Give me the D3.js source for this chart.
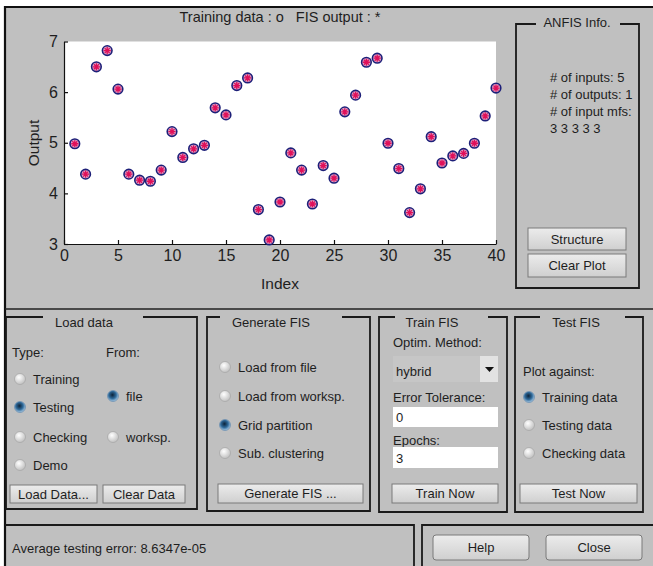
<!DOCTYPE html>
<html>
<head>
<meta charset="utf-8">
<script src="https://cdn.jsdelivr.net/npm/d3@7"></script>
<style>
  body { margin: 0; background: #fff; }
  svg text { font-family: "Liberation Sans", Arial, sans-serif; fill: #1e1e1e; white-space: pre; }
</style>
</head>
<body>
<script>
// values (index 1..40)
const trainingData = [4.98, 4.38, 6.50, 6.82, 6.06, 4.38, 4.26, 4.24, 4.46, 5.22,
                      4.71, 4.88, 4.95, 5.69, 5.55, 6.13, 6.28, 3.68, 3.08, 3.83,
                      4.80, 4.46, 3.79, 4.55, 4.30, 5.61, 5.94, 6.59, 6.67, 4.99,
                      4.49, 3.62, 4.09, 5.12, 4.60, 4.74, 4.79, 4.99, 5.53, 6.08];
const fisOutput    = [4.98, 4.38, 6.50, 6.82, 6.06, 4.38, 4.26, 4.24, 4.46, 5.22,
                      4.71, 4.88, 4.95, 5.69, 5.55, 6.13, 6.28, 3.68, 3.08, 3.83,
                      4.80, 4.46, 3.79, 4.55, 4.30, 5.61, 5.94, 6.59, 6.67, 4.99,
                      4.49, 3.62, 4.09, 5.12, 4.60, 4.74, 4.79, 4.99, 5.53, 6.08];
const xTicks = [0, 5, 10, 15, 20, 25, 30, 35, 40];
const yTicks = [3, 4, 5, 6, 7];

const infoLines = ["# of inputs: 5", "# of outputs: 1", "# of input mfs:", "3 3 3 3 3"];
const typeOptions = ["Training", "Testing", "Checking", "Demo"];
const fromOptions = ["file", "worksp."];
const genOptions = ["Load from file", "Load from worksp.", "Grid partition", "Sub. clustering"];
const testOptions = ["Training data", "Testing data", "Checking data"];

const W = 653, H = 566;
const FS = 13;
const svg = d3.select("body").append("svg")
  .attr("width", W).attr("height", H);

const defs = svg.append("defs");
const rg = defs.append("radialGradient").attr("id", "radioOff").attr("cx", "40%").attr("cy", "35%").attr("r", "70%");
rg.append("stop").attr("offset", "0%").attr("stop-color", "#ffffff");
rg.append("stop").attr("offset", "100%").attr("stop-color", "#bcbcbc");
const rgOn = defs.append("radialGradient").attr("id", "radioOn").attr("cx", "45%").attr("cy", "40%").attr("r", "60%");
rgOn.append("stop").attr("offset", "0%").attr("stop-color", "#0c2238");
rgOn.append("stop").attr("offset", "55%").attr("stop-color", "#2f6a9a");
rgOn.append("stop").attr("offset", "100%").attr("stop-color", "#a9cbe6");
const bg = defs.append("linearGradient").attr("id", "btn").attr("x1", 0).attr("y1", 0).attr("x2", 0).attr("y2", 1);
bg.append("stop").attr("offset", "0%").attr("stop-color", "#ececec");
bg.append("stop").attr("offset", "100%").attr("stop-color", "#cfcfcf");

// window background + border
svg.append("rect").attr("x", 5).attr("y", 7).attr("width", W - 5).attr("height", H - 7)
  .attr("fill", "#c0c0c0");
svg.append("path").attr("d", `M5,${H} V7 H${W}`).attr("fill", "none")
  .attr("stroke", "#111").attr("stroke-width", 2.2);

// ---------- plot ----------
const x = d3.scaleLinear().domain([0, 40]).range([64, 496]);
const y = d3.scaleLinear().domain([3, 7]).range([244, 41.5]);

svg.append("rect").attr("x", x(0)).attr("y", y(7))
  .attr("width", x(40) - x(0)).attr("height", y(3) - y(7)).attr("fill", "#fff");

const xAxis = svg.append("g").attr("transform", `translate(0,${y(3)})`)
  .call(d3.axisBottom(x).tickValues(xTicks).tickFormat(d3.format("d"))
    .tickSizeInner(-4).tickSizeOuter(0).tickPadding(6));
const yAxis = svg.append("g").attr("transform", `translate(${x(0)},0)`)
  .call(d3.axisLeft(y).tickValues(yTicks).tickFormat(d3.format("d"))
    .tickSizeInner(-4).tickSizeOuter(0).tickPadding(6));
[xAxis, yAxis].forEach(g => {
  g.selectAll("path, line").attr("stroke", "#111").attr("stroke-width", 1.2);
  g.selectAll("text").attr("font-size", 16).style("font-family", "'Liberation Sans', Arial, sans-serif").attr("fill", "#222");
});

svg.append("text").attr("x", 280).attr("y", 22).attr("text-anchor", "middle")
  .attr("font-size", 14.5).text("Training data : o   FIS output : *");
svg.append("text").attr("x", 280).attr("y", 289).attr("text-anchor", "middle")
  .attr("font-size", 15.5).text("Index");
svg.append("text").attr("transform", "translate(39,143) rotate(-90)").attr("text-anchor", "middle")
  .attr("font-size", 15.5).text("Output");

// training data: blue circles
svg.append("g").selectAll("circle").data(trainingData).join("circle")
  .attr("cx", (d, i) => x(i + 1)).attr("cy", d => y(d)).attr("r", 4.8)
  .attr("fill", "#d7a3c8").attr("stroke", "#1d1f78").attr("stroke-width", 1.6);
// FIS output: red asterisks
const star = s => `M${-s},0H${s}M0,${-s}V${s}M${-s * 0.7},${-s * 0.7}L${s * 0.7},${s * 0.7}M${-s * 0.7},${s * 0.7}L${s * 0.7},${-s * 0.7}`;
svg.append("g").selectAll("path").data(fisOutput).join("path")
  .attr("transform", (d, i) => `translate(${x(i + 1)},${y(d)})`)
  .attr("d", star(3.6)).attr("stroke", "#e0105a").attr("stroke-width", 1.3).attr("fill", "none");

// ---------- helpers ----------
function frame(x0, y0, x1, y1, title, tx, ty, gapL, gapR) {
  const g = svg.append("g");
  g.append("path")
    .attr("d", `M${gapL},${y0} H${x0} V${y1} H${x1} V${y0} H${gapR}`)
    .attr("fill", "none").attr("stroke", "#1a1a1a").attr("stroke-width", 1.8);
  if (title) g.append("text").attr("x", tx).attr("y", ty).attr("text-anchor", "middle")
    .attr("font-size", FS).text(title);
}
function label(tx, ty, s, size, color) {
  svg.append("text").attr("x", tx).attr("y", ty).attr("dy", "0.35em")
    .attr("font-size", size || FS).attr("fill", color || "#1e1e1e").text(s);
}
function radio(cx, cy, on, s) {
  svg.append("circle").attr("cx", cx).attr("cy", cy).attr("r", 5.5)
    .attr("fill", on ? "url(#radioOn)" : "url(#radioOff)")
    .attr("stroke", on ? "#6f8fae" : "#a8a8a8").attr("stroke-width", 0.8);
  label(cx + 13, cy, s);
}
function button(x0, y0, x1, y1, s, round) {
  svg.append("rect").attr("x", x0).attr("y", y0).attr("width", x1 - x0).attr("height", y1 - y0)
    .attr("rx", round ? 3 : 0).attr("fill", "url(#btn)").attr("stroke", "#7a7a7a").attr("stroke-width", 1);
  svg.append("text").attr("x", (x0 + x1) / 2).attr("y", (y0 + y1) / 2).attr("dy", "0.36em")
    .attr("text-anchor", "middle").attr("font-size", FS).text(s);
}

// ---------- ANFIS info ----------
frame(516, 24, 639, 288, "ANFIS Info.", 577, 27, 536, 620);
infoLines.forEach((s, i) => label(550, 77 + i * 17, s, FS, "#333"));
button(528, 228, 626, 250, "Structure");
button(528, 254, 626, 277, "Clear Plot");

// separator between plot area and controls
svg.append("line").attr("x1", 5).attr("x2", W).attr("y1", 309).attr("y2", 309)
  .attr("stroke", "#222").attr("stroke-width", 1.6);

// ---------- Load data ----------
frame(6, 317, 197, 509, "Load data", 84, 327, 43, 143);
label(12, 352, "Type:");
label(106, 352, "From:");
typeOptions.forEach((s, i) => radio(20, [379, 407, 437, 465][i], s === "Testing", s));
fromOptions.forEach((s, i) => radio(113, [396, 437][i], s === "file", s));
button(10, 485, 97, 503, "Load Data...");
button(103, 485, 185, 503, "Clear Data");

// ---------- Generate FIS ----------
frame(207, 317, 370, 511, "Generate FIS", 271, 327, 220, 342);
genOptions.forEach((s, i) => radio(225, [367, 396, 425, 453][i], s === "Grid partition", s));
button(218, 484, 363, 503, "Generate FIS ...");

// ---------- Train FIS ----------
frame(379, 317, 507, 512, "Train FIS", 432, 327, 395, 488);
label(393, 342, "Optim. Method:");
svg.append("rect").attr("x", 393).attr("y", 356).attr("width", 105).attr("height", 26).attr("fill", "#c6c6c6");
svg.append("rect").attr("x", 480).attr("y", 356).attr("width", 18).attr("height", 26).attr("fill", "#e2e2e2");
svg.append("path").attr("d", "M485,367 h9 l-4.5,5 z").attr("fill", "#111");
label(396, 371, "hybrid");
label(393, 397, "Error Tolerance:");
svg.append("rect").attr("x", 393).attr("y", 407).attr("width", 105).attr("height", 20).attr("fill", "#fff");
label(396, 417, "0");
label(393, 440, "Epochs:");
svg.append("rect").attr("x", 393).attr("y", 447).attr("width", 105).attr("height", 21).attr("fill", "#fff");
label(396, 458, "3");
button(392, 484, 498, 503, "Train Now");

// ---------- Test FIS ----------
frame(515, 317, 643, 512, "Test FIS", 576, 327, 540, 625);
label(523, 371, "Plot against:");
testOptions.forEach((s, i) => radio(529, [397, 425, 453][i], s === "Training data", s));
button(520, 484, 637, 503, "Test Now");

// ---------- status + help/close ----------
svg.append("path").attr("d", `M5,525 H414 V${H}`).attr("fill", "none")
  .attr("stroke", "#1a1a1a").attr("stroke-width", 1.8);
label(12, 548, "Average testing error: 8.6347e-05");
svg.append("path").attr("d", `M422,${H} V525 H${W}`).attr("fill", "none")
  .attr("stroke", "#1a1a1a").attr("stroke-width", 1.8);
button(433, 535, 529, 560, "Help", true);
button(546, 535, 642, 560, "Close", true);
</script>
</body>
</html>
